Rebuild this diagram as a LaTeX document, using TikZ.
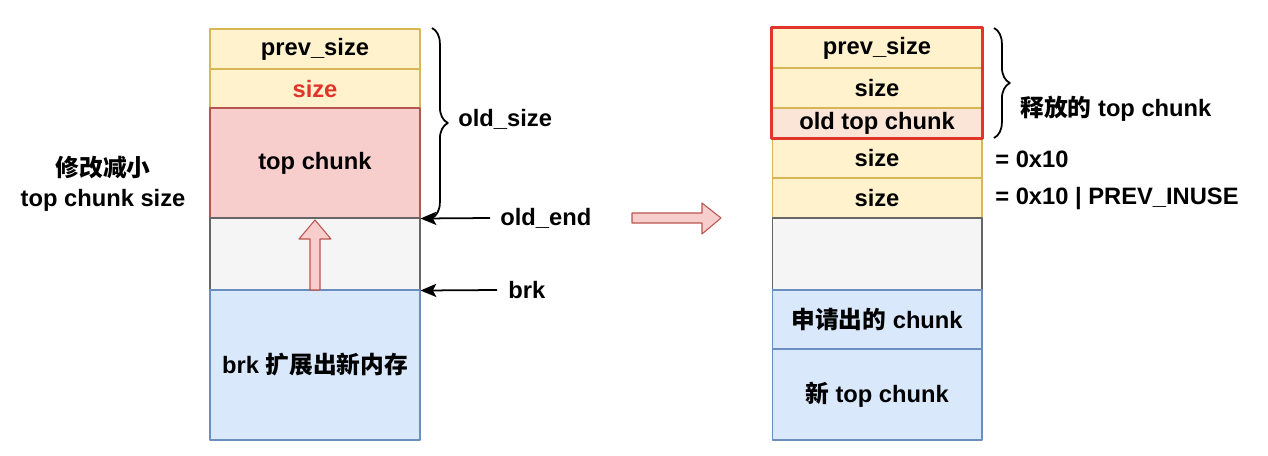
\documentclass[tikz,border=0pt]{standalone}
\usepackage{fontspec}
\setmainfont{Liberation Sans}
\newfontfamily\cjk{Noto Sans CJK SC}[UprightFont=* Bold]
\usetikzlibrary{arrows.meta,positioning,calc,decorations.pathreplacing}

\definecolor{hdrfill}{HTML}{FFF2CC}
\definecolor{hdrline}{HTML}{D6B656}
\definecolor{topfill}{HTML}{F8CECC}
\definecolor{topline}{HTML}{B85450}
\definecolor{gapfill}{HTML}{F5F5F5}
\definecolor{gapline}{HTML}{666666}
\definecolor{newfill}{HTML}{DAE8FC}
\definecolor{newline}{HTML}{6C8EBF}
\definecolor{oldfill}{HTML}{FBE5D6}
\definecolor{warnred}{HTML}{E0352B}

\begin{document}
\begin{tikzpicture}[x=0.02cm, y=-0.02cm, line join=round,
  cell/.style={draw, line width=0.6pt, minimum width=4.2cm, inner sep=0pt,
    font=\bfseries\fontsize{13.5}{16}\selectfont},
  hdr/.style={cell, fill=hdrfill, draw=hdrline, minimum height=0.8cm},
  lbl/.style={inner sep=0pt, font=\bfseries\fontsize{13.5}{16}\selectfont},
  brc/.style={decorate, decoration={brace, amplitude=9pt, aspect=0.5}, line width=1pt},
  ptr/.style={-{Stealth[length=9pt, width=7.5pt, inset=2pt]}, line width=1pt}]

\useasboundingbox (0,0) rectangle (1268,456);

\node[hdr] (lprev) at (315,49) {prev\_size};
\node[hdr, text=warnred] (lsize) at (315,89) {size};
\node[cell, fill=topfill, draw=topline, minimum height=2.2cm] (ltop) at (315,163) {top chunk};
\node[cell, fill=gapfill, draw=gapline, minimum height=1.44cm] (lgap) at (315,254) {};
\node[cell, fill=newfill, draw=newline, minimum height=3.0cm] (lnew) at (315,365) {brk {\cjk 扩展出新内存}};

\draw[fill=topfill, draw=topline, line width=0.6pt] (310,290) -- (310,239) -- (299,239) -- (315,220)
  -- (331,239) -- (320,239) -- (320,290) -- cycle;

\node[lbl, align=center, font=\bfseries\fontsize{13.5}{17}\selectfont] (shrink) at (103,184) {{\cjk 修改减小}\\top chunk size};

\draw[brc] (432,28) -- (432,218);
\node[lbl, anchor=west] (oldsize) at (458,119) {old\_size};
\node[lbl, anchor=west] (oldend) at (500,218) {old\_end};
\node[lbl, anchor=west] (brk) at (508,290) {brk};
\draw[ptr] (oldend.west) ++(-10,0) -- (ltop.south east);
\draw[ptr] (brk.west) ++(-11,0) -- (lgap.south east);

\draw[fill=topfill, draw=topline, line width=0.6pt] (632,213) -- (702,213) -- (702,203) -- (721,218)
  -- (702,234) -- (702,223) -- (632,223) -- cycle;

\node[hdr] (rprev) at (877,48) {prev\_size};
\node[hdr] (rsize) at (877,88) {size};
\node[cell, fill=oldfill, draw=hdrline, minimum height=0.6cm] (rold) at (877,123) {old top chunk};
\node[hdr] (rsz1) at (877,158) {size};
\node[hdr] (rsz2) at (877,198) {size};
\node[cell, fill=gapfill, draw=gapline, minimum height=1.44cm] (rgap) at (877,254) {};
\node[cell, fill=newfill, draw=newline, minimum height=1.18cm] (ralloc) at (877,319.5) {{\cjk 申请出的} chunk};
\node[cell, fill=newfill, draw=newline, minimum height=1.82cm] (rnew) at (877,394.5) {{\cjk 新} top chunk};
\draw[warnred, line width=1.2pt] (rprev.north west) rectangle (rold.south east);

\draw[brc] (994,28) -- (994,138);
\node[lbl, anchor=west] (freed) at (1020,109) {{\cjk 释放的} top chunk};
\node[lbl, anchor=west] (eq1) at (995,159) {= 0x10};
\node[lbl, anchor=west] (eq2) at (995,199) {= 0x10 | PREV\_INUSE};

\end{tikzpicture}
\end{document}
